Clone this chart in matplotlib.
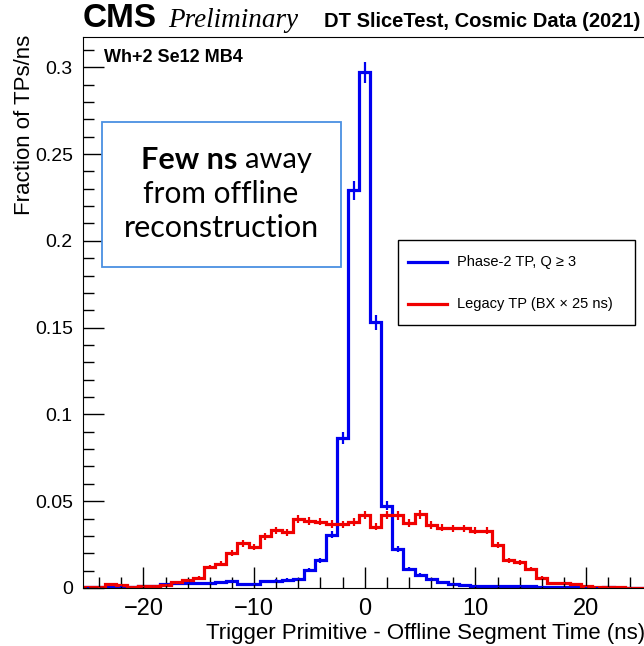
import numpy as np
import matplotlib
matplotlib.use("Agg")
import matplotlib.pyplot as plt
from matplotlib.patches import Rectangle
from matplotlib.lines import Line2D
from matplotlib.ticker import MultipleLocator, FuncFormatter

plt.rcParams['font.family'] = ['Liberation Sans', 'DejaVu Sans']

# bin centres (ns), 1 ns wide bins
centers = np.arange(-25, 26)

# Phase-2 TP, Q >= 3
phase2 = [0.0003, 0.0003, 0.0005, 0.0006, 0.0008, 0.0010, 0.0012,
          0.0023, 0.0028, 0.0030, 0.0030, 0.0031, 0.0036, 0.0038,
          0.0023, 0.0023, 0.0040, 0.0042, 0.0047, 0.0052, 0.0104,
          0.0160, 0.0308, 0.0862, 0.2290, 0.2970, 0.1530, 0.0475,
          0.0222, 0.0108, 0.0075, 0.0050, 0.0036, 0.0023, 0.0016,
          0.0012, 0.0009, 0.0009, 0.0011, 0.0011, 0.0009, 0.0006,
          0.0004, 0.0003, 0.0006, 0.0005, 0.0002, 0.0003, 0.0001,
          0.0002, 0.0001]

# Legacy TP (BX x 25 ns)
legacy = [0.0008, 0.0003, 0.0022, 0.0018, 0.0008, 0.0009, 0.0011,
          0.0016, 0.0032, 0.0045, 0.0058, 0.0121, 0.0140, 0.0200,
          0.0257, 0.0238, 0.0298, 0.0332, 0.0322, 0.0398, 0.0385,
          0.0383, 0.0370, 0.0366, 0.0378, 0.0420, 0.0353, 0.0420,
          0.0418, 0.0376, 0.0424, 0.0363, 0.0348, 0.0344, 0.0344,
          0.0330, 0.0330, 0.0248, 0.0159, 0.0149, 0.0110, 0.0060,
          0.0030, 0.0028, 0.0024, 0.0010, 0.0008, 0.0004, 0.0004,
          0.0002, 0.0002]

labels = ['Phase-2 TP, Q \u2265 3', 'Legacy TP (BX \u00d7 25 ns)']

# statistical error scale (error ~ k*sqrt(fraction))
err_k = 0.0115

W, H = 644, 646
fig = plt.figure(figsize=(W / 100, H / 100), dpi=100)
ax = fig.add_axes([82.5 / W, (H - 588) / H, (647 - 82.5) / W, (588 - 37) / H])

edges = np.append(centers - 0.5, centers[-1] + 0.5)
blue = '#0000f0'
red = '#f00000'

for vals, col in [(phase2, blue), (legacy, red)]:
    vals = np.array(vals)
    ax.stairs(vals, edges, color=col, lw=2.3, baseline=None)
    ax.errorbar(centers, vals, yerr=err_k * np.sqrt(vals), fmt='none',
                ecolor=col, elinewidth=1.6, capsize=0)

ax.set_xlim(-25.5, 25.5)
ax.set_ylim(0, 0.3174)
ax.xaxis.set_major_locator(MultipleLocator(10))
ax.xaxis.set_minor_locator(MultipleLocator(2))
ax.yaxis.set_major_locator(MultipleLocator(0.05))
ax.yaxis.set_minor_locator(MultipleLocator(0.01))
ax.yaxis.set_major_formatter(FuncFormatter(lambda v, p: '%g' % round(v, 3)))
ax.tick_params(which='major', direction='in', length=15, width=1, pad=7)
ax.tick_params(axis='y', labelsize=14)
ax.tick_params(axis='x', labelsize=17)
ax.tick_params(which='minor', direction='in', length=8, width=1)
ax.tick_params(top=False, right=False)

fig.text(25 / W, 1 - 35 / H, 'Fraction of TPs/ns', rotation=90,
         ha='center', va='top', fontsize=16)
fig.text(645 / W, 1 - 633 / H, 'Trigger Primitive - Offline Segment Time (ns)',
         ha='right', va='center', fontsize=16)

fig.text(83 / W, 1 - 27 / H, 'CMS', fontweight='bold', fontsize=24,
         va='baseline')
fig.text(168 / W, 1 - 27 / H, 'Preliminary', family='Liberation Serif',
         style='italic', fontsize=19.5, va='baseline')
fig.text(640 / W, 1 - 27 / H, 'DT SliceTest, Cosmic Data (2021)',
         fontweight='bold', fontsize=14.5, ha='right', va='baseline')
fig.text(104 / W, 1 - 62 / H, 'Wh+2 Se12 MB4', fontweight='bold',
         fontsize=13, va='baseline')

# annotation box
fig.patches.append(Rectangle((102 / W, 1 - 267 / H), 239 / W, 145 / H,
                             transform=fig.transFigure, facecolor='white',
                             edgecolor='#4a90e2', lw=1.3, zorder=5))
bfont = ['Lato', 'DejaVu Sans']
fig.text(237 / W, 1 - 160 / H, 'Few ns', family=bfont, fontweight='bold',
         fontsize=22, ha='right', va='center', zorder=6)
fig.text(245 / W, 1 - 160 / H, 'away', family=bfont, fontsize=21,
         ha='left', va='center', zorder=6)
fig.text(221 / W, 1 - 194 / H, 'from offline', family=bfont, fontsize=21.5,
         ha='center', va='center', zorder=6)
fig.text(221 / W, 1 - 228 / H, 'reconstruction', family=bfont, fontsize=22,
         ha='center', va='center', zorder=6)

# legend box (ROOT TLegend style)
fig.patches.append(Rectangle((398 / W, 1 - 325 / H), 237 / W, 85 / H,
                             transform=fig.transFigure, facecolor='white',
                             edgecolor='black', lw=1.0, zorder=5))
for row, (col, lab) in enumerate([(blue, labels[0]), (red, labels[1])]):
    yy = 1 - (262 + 42 * row) / H
    fig.add_artist(Line2D([408 / W, 447 / W], [yy, yy], color=col, lw=2.3,
                          transform=fig.transFigure, zorder=6))
    fig.text(457 / W, yy, lab, fontsize=10.5, va='center', zorder=6)

fig.savefig('out.png', dpi=100)
